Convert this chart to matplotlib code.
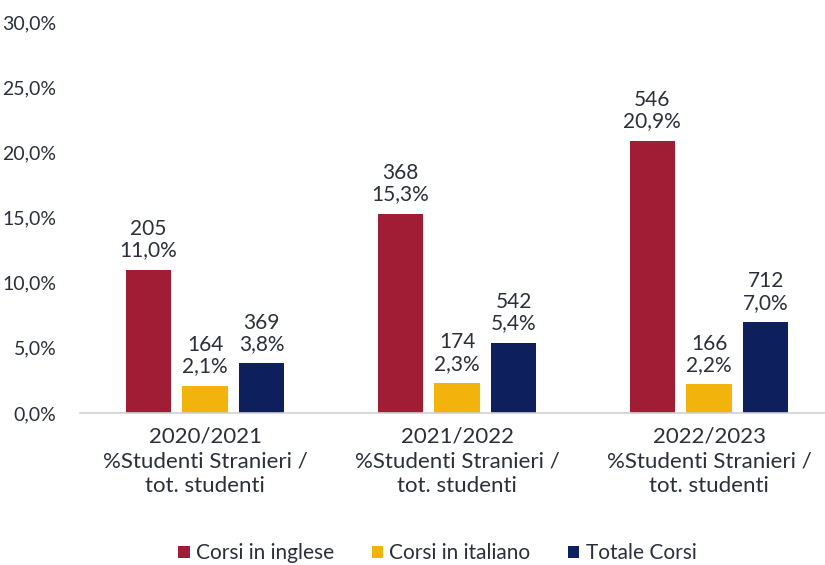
import matplotlib.pyplot as plt
import numpy as np
from matplotlib.ticker import FuncFormatter

plt.rcParams['font.family'] = ['Lato', 'DejaVu Sans']

# Data
years = ["2020/2021", "2021/2022", "2022/2023"]
series_names = ["Corsi in inglese", "Corsi in italiano", "Totale Corsi"]
pct_inglese = [11.0, 15.3, 20.9]
pct_italiano = [2.1, 2.3, 2.2]
pct_totale = [3.8, 5.4, 7.0]
n_inglese = [205, 368, 546]
n_italiano = [164, 174, 166]
n_totale = [369, 542, 712]

colors = ["#A11D36", "#F2B40C", "#0E1F5E"]
text_color = "#2b2f3a"

fig = plt.figure(figsize=(8.25, 5.65), dpi=100)
ax = fig.add_axes([0.097, 0.269, 0.903, 0.692])

x = np.arange(len(years))
width = 0.18
offsets = [-0.225, 0.0, 0.225]
pcts = [pct_inglese, pct_italiano, pct_totale]
counts = [n_inglese, n_italiano, n_totale]

for i in range(3):
    bars = ax.bar(x + offsets[i], pcts[i], width, color=colors[i], label=series_names[i])
    for b, p, n in zip(bars, pcts[i], counts[i]):
        label = f"{n}\n{p:.1f}%".replace(".", ",")
        ax.text(b.get_x() + b.get_width() / 2, b.get_height() + 0.7, label,
                ha="center", va="bottom", fontsize=15, color=text_color, linespacing=1.1)

ax.set_ylim(0, 30)
ax.set_xlim(-0.496, 2.46)
ax.set_yticks(np.arange(0, 31, 5))
ax.yaxis.set_major_formatter(FuncFormatter(lambda v, _: f"{v:.1f}%".replace(".", ",")))
ax.set_xticks(x)
ax.set_xticklabels([f"{y}\n%Studenti Stranieri /\ntot. studenti" for y in years],
                   linespacing=1.28, fontsize=16)

for s in ["top", "right", "left"]:
    ax.spines[s].set_visible(False)
ax.spines["bottom"].set_color("#cfcfcf")
ax.spines["bottom"].set_linewidth(1.2)
ax.tick_params(axis="both", length=0, labelsize=14, colors=text_color)
ax.tick_params(axis="x", labelsize=16, pad=10)
ax.tick_params(axis="y", pad=17)

fig.legend(loc="lower center", bbox_to_anchor=(0.53, -0.03), ncol=3, frameon=False,
           fontsize=15, handlelength=0.55, handleheight=0.55, handletextpad=0.3,
           columnspacing=1.8, labelcolor=text_color)

fig.savefig("out.png", dpi=100)
